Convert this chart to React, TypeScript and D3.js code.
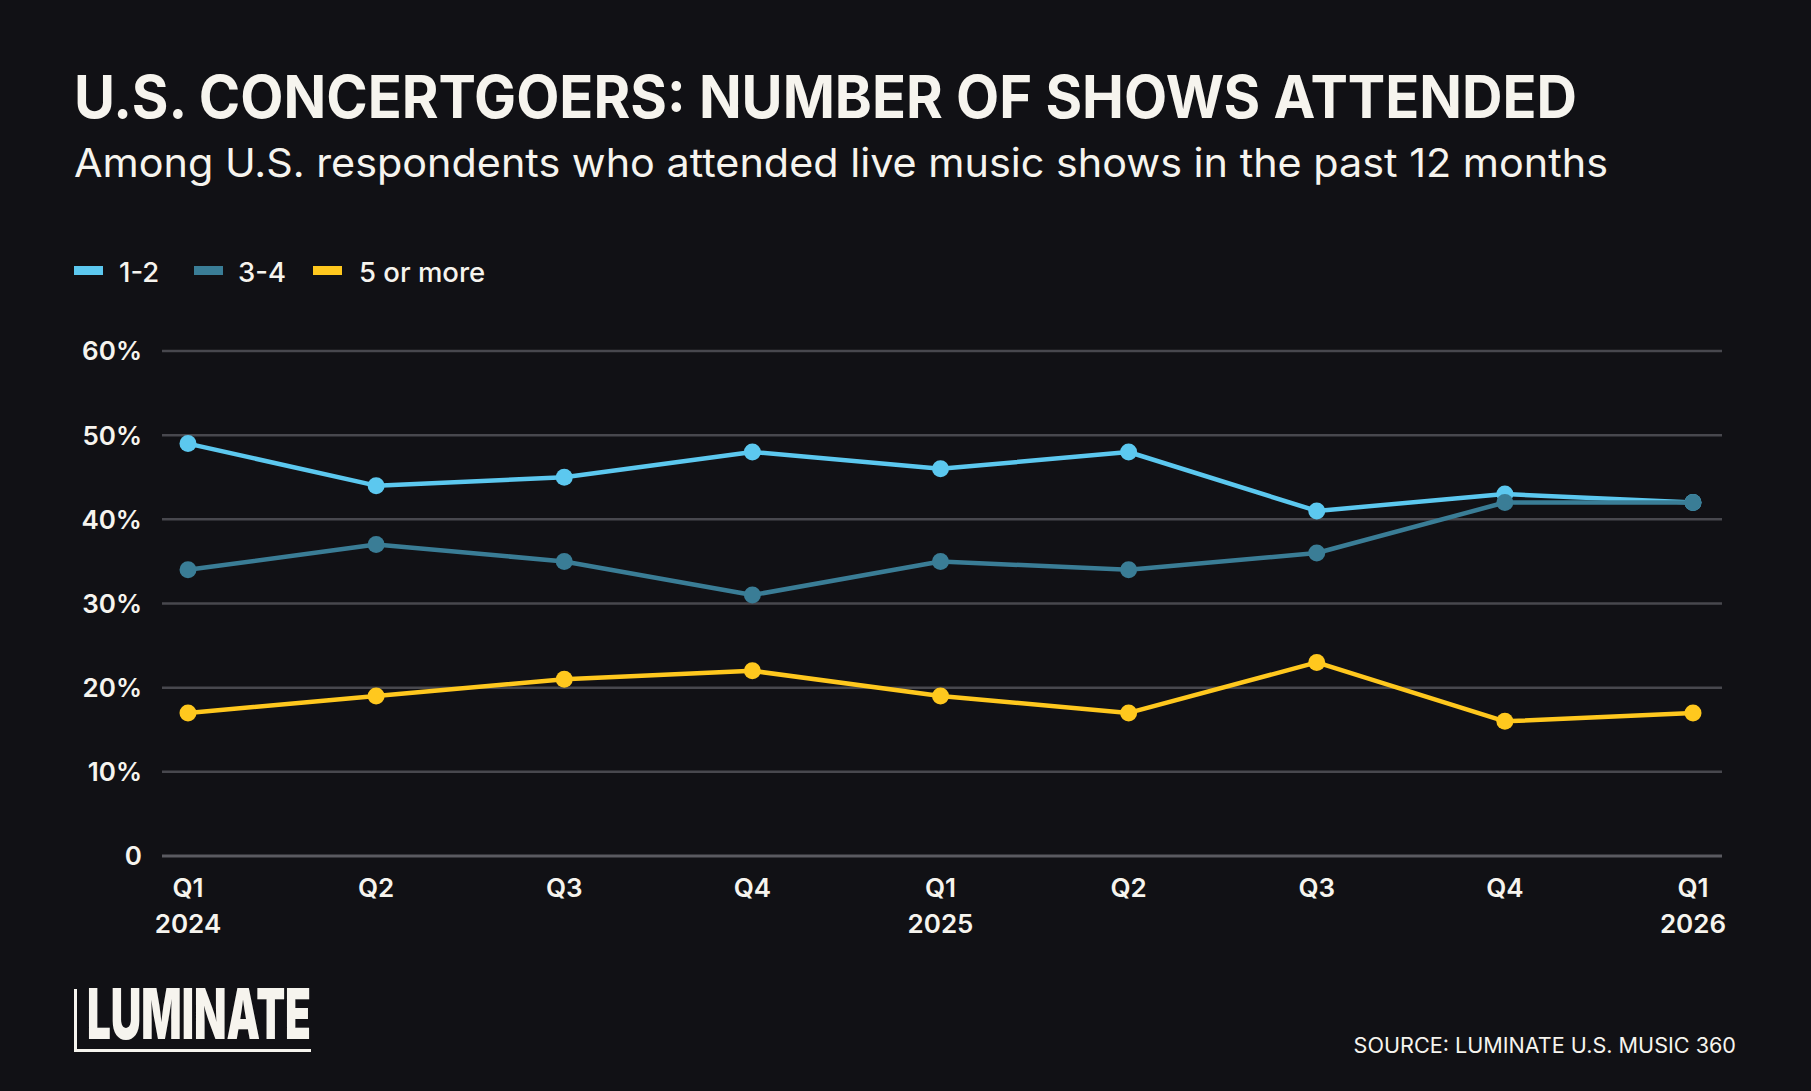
import React from "react";
import * as d3 from "d3";

// Quarters on the x axis, with the year shown under the first quarter of each year
const quarters = ["Q1", "Q2", "Q3", "Q4", "Q1", "Q2", "Q3", "Q4", "Q1"];
const years = ["2024", "", "", "", "2025", "", "", "", "2026"];

// Share of respondents (%) by number of shows attended
const shows12 = [49, 44, 45, 48, 46, 48, 41, 43, 42];
const shows34 = [34, 37, 35, 31, 35, 34, 36, 42, 42];
const shows5plus = [17, 19, 21, 22, 19, 17, 23, 16, 17];

const yTicks = [0, 10, 20, 30, 40, 50, 60];

const seriesNames = ["1-2", "3-4", "5 or more"];
const seriesColors = ["#5cc8ef", "#3a7d96", "#ffc81e"];

const W = 1811;
const H = 1091;
const BG = "#111115";
const TEXT = "#f6f4ee";
const FONT = "Inter, 'Noto Sans', sans-serif";

export default function App() {
  const x = d3
    .scalePoint<number>()
    .domain(d3.range(quarters.length))
    .range([188, 1693]);
  const y = d3.scaleLinear().domain([0, 60]).range([856, 351]);

  const line = d3
    .line<number>()
    .x((_, i) => x(i) as number)
    .y((d) => y(d));

  const series = [shows12, shows34, shows5plus];

  const legendItems = [
    { swatch: 74, text: 119 },
    { swatch: 194, text: 238 },
    { swatch: 313, text: 359 },
  ];

  return (
    <div
      style={{
        position: "fixed",
        left: 0,
        top: 0,
        width: W,
        height: H,
        background: BG,
      }}
    >
      <svg width={W} height={H} style={{ display: "block" }}>
        <rect width={W} height={H} fill={BG} />

        {/* Title and subtitle */}
        <text
          x={74}
          y={118}
          fill={TEXT}
          fontFamily={FONT}
          fontWeight={700}
          fontSize={59}
          textLength={1503}
          lengthAdjust="spacingAndGlyphs"
        >
          U.S. CONCERTGOERS: NUMBER OF SHOWS ATTENDED
        </text>
        <text
          x={74}
          y={177}
          fill={TEXT}
          fontFamily={FONT}
          fontWeight={400}
          fontSize={40}
          textLength={1534}
          lengthAdjust="spacingAndGlyphs"
        >
          Among U.S. respondents who attended live music shows in the past 12 months
        </text>

        {/* Legend */}
        {seriesNames.map((name, i) => (
          <g key={name}>
            <rect
              x={legendItems[i].swatch}
              y={266}
              width={29}
              height={9}
              fill={seriesColors[i]}
            />
            <text
              x={legendItems[i].text}
              y={282}
              fill={TEXT}
              fontFamily={FONT}
              fontWeight={500}
              fontSize={27.5}
            >
              {name}
            </text>
          </g>
        ))}

        {/* Gridlines and y-axis labels */}
        {yTicks.map((t) => (
          <g key={t}>
            <line
              x1={162}
              x2={1722}
              y1={y(t)}
              y2={y(t)}
              stroke={t === 0 ? "#5a5a60" : "#48484e"}
              strokeWidth={t === 0 ? 3 : 2.5}
            />
            <text
              x={142}
              y={y(t)}
              dy="0.36em"
              textAnchor="end"
              fill={TEXT}
              fontFamily={FONT}
              fontWeight={600}
              fontSize={26}
            >
              {t === 0 ? "0" : `${t}%`}
            </text>
          </g>
        ))}

        {/* X-axis labels */}
        {quarters.map((q, i) => (
          <g key={i}>
            <text
              x={x(i)}
              y={896.5}
              textAnchor="middle"
              fill={TEXT}
              fontFamily={FONT}
              fontWeight={600}
              fontSize={26}
            >
              {q}
            </text>
            {years[i] && (
              <text
                x={x(i)}
                y={932.5}
                textAnchor="middle"
                fill={TEXT}
                fontFamily={FONT}
                fontWeight={600}
                fontSize={26}
              >
                {years[i]}
              </text>
            )}
          </g>
        ))}

        {/* Lines and points */}
        {series.map((vals, s) => (
          <g key={s}>
            <path
              d={line(vals) ?? ""}
              fill="none"
              stroke={seriesColors[s]}
              strokeWidth={4.5}
              strokeLinejoin="round"
            />
            {vals.map((v, i) => (
              <circle
                key={i}
                cx={x(i)}
                cy={y(v)}
                r={8.5}
                fill={seriesColors[s]}
              />
            ))}
          </g>
        ))}

        {/* Logo */}
        <line x1={75.5} x2={75.5} y1={989} y2={1052} stroke={TEXT} strokeWidth={3} />
        <line x1={74} x2={311} y1={1050.5} y2={1050.5} stroke={TEXT} strokeWidth={3} />
        <text
          x={87}
          y={1039}
          fill={TEXT}
          fontFamily={FONT}
          fontWeight={900}
          fontSize={70}
          textLength={224}
          lengthAdjust="spacingAndGlyphs"
        >
          LUMINATE
        </text>

        {/* Source */}
        <text
          x={1736}
          y={1053}
          textAnchor="end"
          fill={TEXT}
          fontFamily={FONT}
          fontWeight={400}
          fontSize={21.6}
        >
          SOURCE: LUMINATE U.S. MUSIC 360
        </text>
      </svg>
    </div>
  );
}
